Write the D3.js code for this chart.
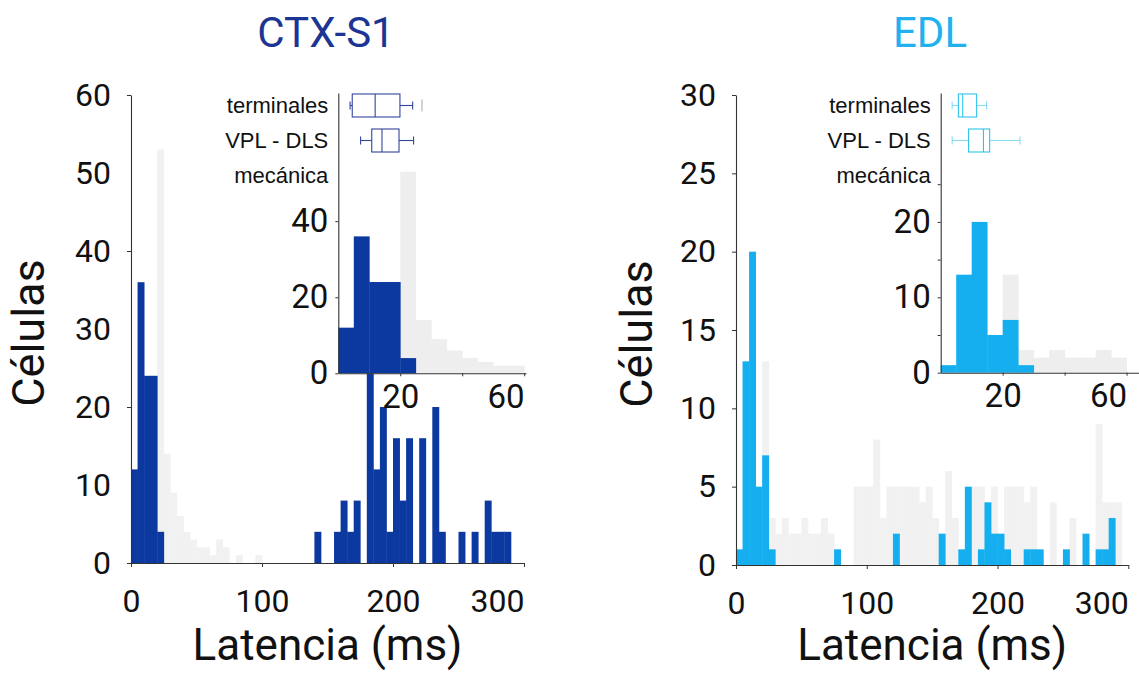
<!DOCTYPE html>
<html><head><meta charset="utf-8">
<script src="https://cdn.jsdelivr.net/npm/d3@7"></script>
<style>body{margin:0;background:#fff}svg{display:block}</style></head>
<body><svg id="c" width="1139" height="673"></svg>
<script>
// ---------- data ----------
const binWidth = 5; // ms
const ctxBins   = [0,5,10,15,20,140,155,160,165,170,180,185,190,195,200,205,210,220,230,235,250,260,270,275,280,285];
const ctxCounts = [12,36,24,24,4,4,4,8,4,8,26,12,20,4,16,8,16,16,20,4,4,4,8,4,4,4];
const edlBins   = [0,5,10,15,20,25,75,120,155,170,175,185,190,195,200,205,220,225,230,250,265,275,280,285];
const edlCounts = [1,13,20,5,7,1,1,2,2,1,5,1,4,2,2,1,1,1,1,1,2,1,1,3];
// faint grey background histograms
const ctxGhostBins   = [20,25,30,35,40,45,50,55,60,65,70,80,95];
const ctxGhostCounts = [53,14,9,6,4,3,2,2,1,3,2,1,1];
const edlGhostBins   = [20,25,30,35,40,45,50,55,60,65,70,90,95,100,105,110,115,120,125,130,135,140,145,150,160,165,180,185,195,205,210,215,220,225,240,255,265,275,280,285,290];
const edlGhostCounts = [13,3,2,3,2,2,3,2,2,3,2,5,5,5,8,3,5,5,5,5,5,4,5,3,6,3,5,5,5,5,5,5,4,5,4,3,2,9,4,4,4];
// box plots (ms): min, q1, median, q3, max
const boxGroups = ["terminales","VPL - DLS","mecánica"];
const ctxBoxStats = [[3.8,4.5,11.9,19.9,24.0],[7.2,10.8,14.1,19.6,24.3],null];
const ctxOutliers = [27,null,null];
const edlBoxStats = [[3.7,5.7,7.1,11.6,14.8],[3.7,9.0,13.8,15.8,25.6],null];
const edlOutliers = [null,null,null];
// tick values
const mainXTicks = [0,100,200,300];
const insetXTicks = [20,40,60];
const insetXLabels = [20,60];

// ---------- drawing ----------
const svg = d3.select("#c");
const FONT = "Roboto, 'Noto Sans', sans-serif";

function bars(g, x, y, bins, counts, color, xmax){
  const data = bins.map((b,i)=>({b, c:counts[i]})).filter(d => d.b + binWidth <= xmax + 0.01);
  g.selectAll(null).data(data).join("rect")
    .attr("x", d => x(d.b))
    .attr("width", d => x(d.b + binWidth) - x(d.b) + 0.4)
    .attr("y", d => y(d.c))
    .attr("height", d => y(0) - y(d.c))
    .attr("fill", color);
}
function styleAxis(g, fs){
  g.selectAll(".domain").attr("stroke","#333").attr("stroke-width",1.1);
  g.selectAll(".tick line").attr("stroke","#333");
  g.selectAll(".tick text").attr("fill","#111").style("font-family",FONT).style("font-size",fs+"px");
}

function panel(cfg){
  const g = svg.append("g");
  const x = d3.scaleLinear().domain([0,300]).range(cfg.xr);
  const y = d3.scaleLinear().domain([0,cfg.ymax]).range(cfg.yr);

  bars(g.append("g"), x, y, cfg.ghostBins, cfg.ghostCounts, "#f1f1f1", 300);
  bars(g.append("g"), x, y, cfg.bins, cfg.counts, cfg.color, 300);

  const ya = g.append("g").attr("transform",`translate(${cfg.xr[0]},0)`)
    .call(d3.axisLeft(y).tickValues(d3.range(0,cfg.ymax+0.1,cfg.yStep)).tickSizeInner(4).tickSizeOuter(0).tickPadding(16));
  ya.selectAll(".tick line").filter(d => d % cfg.yTickMark !== 0).remove();
  styleAxis(ya, 32);

  const xa = g.append("g").attr("transform",`translate(0,${cfg.yr[0]})`)
    .call(d3.axisBottom(x).tickValues(mainXTicks).tickSizeInner(4).tickSizeOuter(0).tickPadding(22));
  styleAxis(xa, 32);
  xa.selectAll(".tick text").filter(d => d === 300).attr("text-anchor","end");

  // axis titles
  g.append("text").attr("transform",`translate(${cfg.ylabX},${(cfg.yr[0]+cfg.yr[1])/2+4}) rotate(-90)`)
    .attr("text-anchor","middle").style("font-family",FONT).style("font-size","45px").attr("fill","#111").text("Células");
  g.append("text").attr("x",(cfg.xr[0]+cfg.xr[1])/2).attr("y",660)
    .attr("text-anchor","middle").style("font-family",FONT).style("font-size","44px").attr("fill","#111").text("Latencia (ms)");
  g.append("text").attr("x",cfg.titleX).attr("y",47)
    .attr("text-anchor","middle").style("font-family",FONT).style("font-size","42px").attr("fill",cfg.titleColor).text(cfg.title);

  // ----- inset -----
  const ig = g.append("g");
  const xi = d3.scaleLinear().domain([0,cfg.ixmax]).range(cfg.ixr);
  const yi = d3.scaleLinear().domain([0,cfg.iymax]).range(cfg.iyr);
  ig.append("rect").attr("x",cfg.ixr[0]).attr("y",cfg.iyr[1]-4)
    .attr("width",cfg.ixr[1]-cfg.ixr[0]+2).attr("height",cfg.iyr[0]-cfg.iyr[1]+4).attr("fill","#fff");
  bars(ig.append("g"), xi, yi, cfg.ghostBins, cfg.ghostCounts, "#eeeeee", cfg.ixmax);
  bars(ig.append("g"), xi, yi, cfg.bins, cfg.counts, cfg.color, cfg.ixmax);

  const iya = ig.append("g").attr("transform",`translate(${cfg.ixr[0]},0)`)
    .call(d3.axisLeft(yi).tickValues(cfg.iyTicks).tickSizeInner(3).tickSizeOuter(0).tickPadding(7)
      .tickFormat(d => cfg.iyLabels.includes(d) ? d : ""));
  styleAxis(iya, 33);
  const ixa = ig.append("g").attr("transform",`translate(0,${cfg.iyr[0]})`)
    .call(d3.axisBottom(xi).tickValues(insetXTicks).tickSizeInner(3).tickSizeOuter(0).tickPadding(8)
      .tickFormat(d => insetXLabels.includes(d) ? d : ""));
  styleAxis(ixa, 33);
  ixa.selectAll(".tick text").filter(d => d === 60).attr("text-anchor","end");

  // box plots
  const yb = d3.scaleBand().domain(boxGroups).range([88,193]).paddingInner(0.343).paddingOuter(0.171);
  ig.selectAll(null).data(boxGroups).join("text")
    .attr("x", cfg.ixr[0]-10).attr("y", d => yb(d)+yb.bandwidth()/2).attr("dy","0.355em")
    .attr("text-anchor","end").style("font-family","'Liberation Sans', Arial, sans-serif").style("font-size","22px")
    .attr("fill","#111").text(d => d);
  boxGroups.forEach((grp,i) => {
    const s = cfg.box[i];
    const cy = yb(grp) + yb.bandwidth()/2;
    if (s) {
      const [mn,q1,md,q3,mx] = s;
      const bg = ig.append("g").attr("stroke",cfg.boxColor).attr("fill","none").attr("stroke-width",1.1);
      bg.append("line").attr("x1",xi(mn)).attr("x2",xi(q1)).attr("y1",cy).attr("y2",cy).attr("opacity",cfg.whiskerOp);
      bg.append("line").attr("x1",xi(q3)).attr("x2",xi(mx)).attr("y1",cy).attr("y2",cy).attr("opacity",cfg.whiskerOp);
      bg.append("line").attr("x1",xi(mn)).attr("x2",xi(mn)).attr("y1",cy-4).attr("y2",cy+4).attr("opacity",cfg.whiskerOp);
      bg.append("line").attr("x1",xi(mx)).attr("x2",xi(mx)).attr("y1",cy-4).attr("y2",cy+4).attr("opacity",cfg.whiskerOp);
      bg.append("rect").attr("x",xi(q1)).attr("width",xi(q3)-xi(q1)).attr("y",yb(grp)).attr("height",yb.bandwidth());
      bg.append("line").attr("x1",xi(md)).attr("x2",xi(md)).attr("y1",yb(grp)).attr("y2",yb(grp)+yb.bandwidth());
    }
    if (cfg.outliers[i] != null) {
      ig.append("line").attr("x1",xi(cfg.outliers[i])).attr("x2",xi(cfg.outliers[i]))
        .attr("y1",cy-6).attr("y2",cy+6).attr("stroke","#c4c4d0").attr("stroke-width",1.5);
    }
  });
}

panel({
  xr:[131,524], yr:[563,95], ymax:60, yStep:10, yTickMark:20,
  bins:ctxBins, counts:ctxCounts, ghostBins:ctxGhostBins, ghostCounts:ctxGhostCounts,
  color:"#0c399f", title:"CTX-S1", titleX:326, titleColor:"#1c3592", ylabX:44,
  ixr:[338.3,526], ixmax:60.6, iyr:[373.3,93], iymax:73.7, iyTicks:[0,20,40], iyLabels:[0,20,40],
  box:ctxBoxStats, outliers:ctxOutliers, boxColor:"#33449b", whiskerOp:1
});
panel({
  xr:[736,1128.3], yr:[565,95], ymax:30, yStep:5, yTickMark:5,
  bins:edlBins, counts:edlCounts, ghostBins:edlGhostBins, ghostCounts:edlGhostCounts,
  color:"#15aff0", title:"EDL", titleX:930, titleColor:"#20b1ee", ylabX:652,
  ixr:[940.7,1139], ixmax:64, iyr:[372.7,93], iymax:37.1, iyTicks:[0,5,10,15,20,25], iyLabels:[0,10,20],
  box:edlBoxStats, outliers:edlOutliers, boxColor:"#2fc3e8", whiskerOp:0.55
});
</script>
</body></html>
